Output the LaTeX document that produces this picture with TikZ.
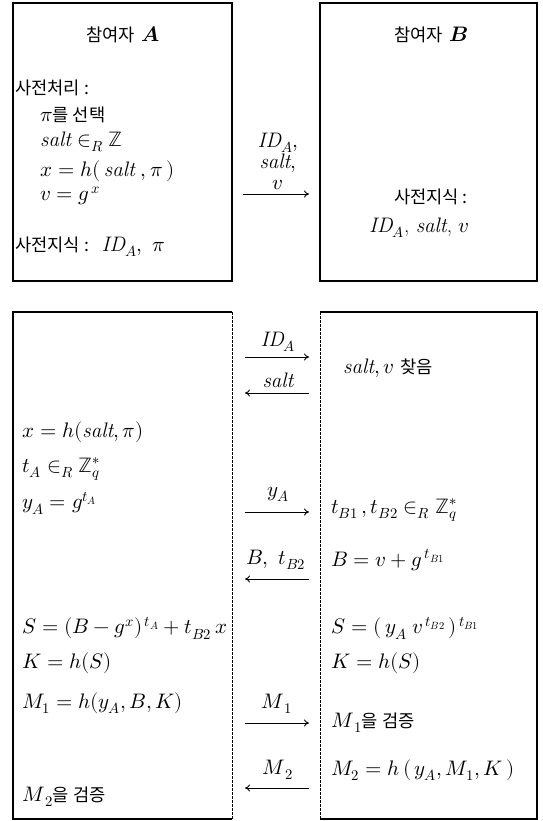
\documentclass[tikz,border=0pt]{standalone}
\usepackage{fontspec}
\usepackage{unicode-math}
\setmathfont{Latin Modern Math}
\newfontfamily\krfont{Noto Sans CJK KR}[Scale=0.84]
\usetikzlibrary{arrows.meta}
\newcommand\ko[1]{{\krfont #1}}
\newcommand\IDA{\mathit{ID}_{A}}
\newcommand\slt{\mathit{salt}}
\begin{document}
\begin{tikzpicture}[x=1pt,y=-1pt,
  every node/.style={inner sep=0pt, font=\fontsize{21}{25}\selectfont},
  txt/.style={anchor=west},
  ctr/.style={anchor=center},
  boxline/.style={line width=1.2pt},
  dashline/.style={line width=1pt, dash pattern=on 2.5pt off 1.5pt},
  msg/.style={line width=0.9pt, -{To[length=5pt,width=7pt]}}]
\useasboundingbox (0,0) rectangle (542,821);
% ---------- top boxes
\draw[boxline] (13,3) rectangle (232,281);
\draw[boxline] (320,3) rectangle (537,281);
\node[ctr] (tA) at (123,35) {\ko{참여자} $\symbfit{A}$};
\node[txt] (pre) at (15,88) {\ko{사전처리 :}};
\node[txt] (pi) at (40,115) {$\pi$\ko{를 선택}};
\node[txt] (salt) at (40,142) {$\slt \in_{R} \mathbb{Z}$};
\node[txt] (xh) at (40,171) {$x = h(\,\slt\;, \pi\,)$};
\node[txt] (vg) at (40,196) {$v = g^{\,x}$};
\node[txt] (knowA) at (15,247) {\ko{사전지식 :}\ \ $\IDA,\ \pi$};
\node[ctr] (tB) at (431,35) {\ko{참여자} $\symbfit{B}$};
\node[ctr] (knowB) at (431,197) {\ko{사전지식 :}};
\node[ctr] (knowB2) at (419,228) {$\IDA$, $\slt$, $v$};
% top message
\coordinate (m0s) at (243,194);
\coordinate (m0e) at (309,194);
\draw[msg] (m0s) -- (m0e);
\node[anchor=south, align=center, font=\fontsize{21}{21}\selectfont] (l0) at (278,190)
  {$\IDA,$\\$\slt,$\\$v$};
% ---------- bottom boxes
\draw[boxline] (232,312) -- (13,312) -- (13,819) -- (232,819);
\draw[dashline] (232,312) -- (232,819);
\draw[boxline] (320,312) -- (537,312) -- (537,819) -- (320,819);
\draw[dashline] (320,312) -- (320,819);
% messages
\coordinate (a1s) at (245,357); \coordinate (a1e) at (309,357);
\coordinate (a2s) at (309,393); \coordinate (a2e) at (245,393);
\coordinate (a3s) at (245,512); \coordinate (a3e) at (309,512);
\coordinate (a4s) at (309,579); \coordinate (a4e) at (245,579);
\coordinate (a5s) at (245,723); \coordinate (a5e) at (309,723);
\coordinate (a6s) at (309,788); \coordinate (a6e) at (245,788);
\draw[msg] (a1s) -- (a1e);
\draw[msg] (a2s) -- (a2e);
\draw[msg] (a3s) -- (a3e);
\draw[msg] (a4s) -- (a4e);
\draw[msg] (a5s) -- (a5e);
\draw[msg] (a6s) -- (a6e);
\node[ctr] (l1) at (278,342) {$\IDA$};
\node[ctr] (l2) at (278,380) {$\slt$};
\node[ctr] (l3) at (278,494) {$y_{A}$};
\node[ctr] (l4) at (276,560) {$B,\ t_{B2}$};
\node[ctr] (l5) at (277,704) {$M_{\,1}$};
\node[ctr] (l6) at (278,770) {$M_{\,2}$};
% left column
\node[txt] (bx) at (22,432) {$x = h(\slt, \pi)$};
\node[txt] (btA) at (22,469) {$t_{A} \in_{R} \mathbb{Z}_{q}^{*}$};
\node[txt] (byA) at (22,503) {$y_{A} = g^{t_{A}}$};
\node[txt] (bS) at (22,628) {$S = (B - g^{x})^{\,t_{A}} + t_{B2}\, x$};
\node[txt] (bK) at (22,663) {$K = h(S)$};
\node[txt] (bM1) at (22,703) {$M_{1} = h(y_{A}, B, K)$};
\node[txt] (bM2) at (22,797) {$M_{\,2}$\ko{을 검증}};
% right column
\node[txt] (rs) at (343,368) {$\slt, v$ \ko{찾음}};
\node[txt] (rt) at (331,510) {$t_{B1}\,, t_{B2} \in_{R} \mathbb{Z}_{q}^{*}$};
\node[txt] (rB) at (331,560) {$B = v + g^{\,t_{B1}}$};
\node[txt] (rS) at (331,628) {$S = (\,y_{A}\; v^{\,t_{B2}}\,)^{\,t_{B1}}$};
\node[txt] (rK) at (331,663) {$K = h(S)$};
\node[txt] (rM1) at (331,723) {$M_{\,1}$\ko{을 검증}};
\node[txt] (rM2) at (331,770) {$M_{2} = h\,(\,y_{A}, M_{1}, K\,)$};
\end{tikzpicture}
\end{document}
